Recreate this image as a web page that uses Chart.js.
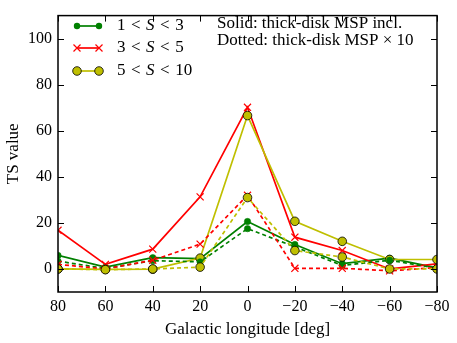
<!DOCTYPE html>
<html>
<head>
<meta charset="utf-8">
<script src="https://cdn.jsdelivr.net/npm/chart.js@4/dist/chart.umd.min.js"></script>
<style>
  html, body { margin: 0; padding: 0; background: #fff; }
  #wrap { width: 457px; height: 343px; }
</style>
</head>
<body>
<div id="wrap"><canvas id="tsChart"></canvas></div>
<script>
// galactic longitude bins
const lon = [80, 60, 40, 20, 0, -20, -40, -60, -80];

// TS values
const tsLow = [5.9, 0.8, 4.9, 4.5, 20.6, 10.6, 2.3, 4.7, 0.5];       // 1 < S < 3, thick-disk incl.
const tsLowX10 = [3.4, 0.2, 3.6, 3.1, 17.5, 9.6, 1.5, 3.8, 0.3];     // 1 < S < 3, x10
const tsMid = [16.8, 2.0, 8.6, 31.3, 70.2, 13.8, 8.0, 0.0, 2.2];     // 3 < S < 5
const tsMidX10 = [2.0, 0.0, 3.8, 10.8, 32.0, 0.3, 0.3, -0.8, 0.6];
const tsHigh = [0.0, -0.2, -0.1, 4.7, 66.6, 20.7, 12.0, 4.1, 4.1];   // 5 < S < 10
const tsHighX10 = [0.0, -0.3, 0.0, 0.8, 31.0, 8.0, 5.2, 0.0, 0.0];

const xTicks = [80, 60, 40, 20, 0, -20, -40, -60, -80];
const yTicks = [0, 20, 40, 60, 80, 100];

const legendLow = ['1', '3', '5'];
const legendHigh = ['3', '5', '10'];

const GREEN = '#008000';
const RED = '#ff0000';
const YELLOW = '#bfbf00';
const FONT = '"Liberation Serif", "DejaVu Serif", serif';

const pts = (ys) => ys.map((y, i) => ({ x: lon[i], y: y }));

function series(ys, color, style, dashed, order) {
  const ds = {
    data: pts(ys),
    borderColor: color,
    borderWidth: 1.7,
    borderDash: dashed ? [4, 3] : [],
    tension: 0,
    clip: 0,
    order: order,
    pointStyle: style === 'x' ? 'cross' : 'circle',
    pointRotation: style === 'x' ? 45 : 0
  };
  if (style === 'x') {
    ds.pointRadius = 5; ds.pointBorderColor = color; ds.pointBorderWidth = 1.2;
    ds.pointBackgroundColor = color;
  } else if (style === 'dot') {
    ds.pointRadius = 3.2; ds.pointBorderColor = color; ds.pointBorderWidth = 0.5;
    ds.pointBackgroundColor = color;
  } else {
    ds.pointRadius = 4.3; ds.pointBorderColor = '#000'; ds.pointBorderWidth = 0.8;
    ds.pointBackgroundColor = YELLOW;
  }
  return ds;
}

function drawMarker(ctx, style, color, x, y) {
  ctx.save();
  ctx.setLineDash([]);
  if (style === 'x') {
    const r = 3.5;
    ctx.strokeStyle = color; ctx.lineWidth = 1.2;
    ctx.beginPath();
    ctx.moveTo(x - r, y - r); ctx.lineTo(x + r, y + r);
    ctx.moveTo(x - r, y + r); ctx.lineTo(x + r, y - r);
    ctx.stroke();
  } else if (style === 'dot') {
    ctx.fillStyle = color;
    ctx.beginPath(); ctx.arc(x, y, 3.2, 0, Math.PI * 2); ctx.fill();
  } else {
    ctx.fillStyle = YELLOW; ctx.strokeStyle = '#000'; ctx.lineWidth = 0.8;
    ctx.beginPath(); ctx.arc(x, y, 4.3, 0, Math.PI * 2); ctx.fill(); ctx.stroke();
  }
  ctx.restore();
}

// frame, inward ticks, legend and note text
const decorations = {
  id: 'decorations',
  afterDraw(chart) {
    const ctx = chart.ctx;
    const a = chart.chartArea;
    const xs = chart.scales.x, ys = chart.scales.y;
    ctx.save();
    ctx.strokeStyle = '#000';
    ctx.lineWidth = 1;
    ctx.beginPath();
    xTicks.forEach(v => {
      const px = Math.round(xs.getPixelForValue(v)) + 0.5;
      ctx.moveTo(px, a.bottom); ctx.lineTo(px, a.bottom - 6);
      ctx.moveTo(px, a.top); ctx.lineTo(px, a.top + 6);
    });
    yTicks.forEach(v => {
      const py = Math.round(ys.getPixelForValue(v)) + 0.5;
      ctx.moveTo(a.left, py); ctx.lineTo(a.left + 6, py);
      ctx.moveTo(a.right, py); ctx.lineTo(a.right - 6, py);
    });
    ctx.stroke();
    ctx.lineWidth = 1.5;
    ctx.strokeRect(a.left, a.top, a.right - a.left, a.bottom - a.top);

    // legend
    const rows = [
      { color: GREEN, style: 'dot' },
      { color: RED, style: 'x' },
      { color: YELLOW, style: 'circle' }
    ];
    const rowY = [26, 48, 71];
    rows.forEach((r, i) => {
      const y = rowY[i];
      ctx.strokeStyle = r.color; ctx.lineWidth = 1.7; ctx.setLineDash([]);
      ctx.beginPath(); ctx.moveTo(77, y); ctx.lineTo(99, y); ctx.stroke();
      drawMarker(ctx, r.style, r.color, 77, y);
      drawMarker(ctx, r.style, r.color, 99, y);
      ctx.fillStyle = '#000';
      ctx.textBaseline = 'middle';
      ctx.textAlign = 'left';
      let x = 117;
      const parts = [
        [legendLow[i], '17px ' + FONT],
        ['<', '17px ' + FONT],
        ['S', 'italic 17px ' + FONT],
        ['<', '17px ' + FONT],
        [legendHigh[i], '17px ' + FONT]
      ];
      parts.forEach(p => {
        ctx.font = p[1];
        ctx.fillText(p[0], x, y);
        x += ctx.measureText(p[0]).width + 5.5;
      });
    });

    // note
    ctx.font = '17px ' + FONT;
    ctx.fillStyle = '#000';
    ctx.textBaseline = 'middle';
    ctx.fillText('Solid: thick-disk MSP incl.', 217, 24);
    ctx.fillText('Dotted: thick-disk MSP \u00d7 10', 217, 41);
    ctx.restore();
  }
};

const ctx = document.getElementById('tsChart').getContext('2d');
new Chart(ctx, {
  type: 'line',
  data: {
    datasets: [
      series(tsLow, GREEN, 'dot', false, 5),
      series(tsMid, RED, 'x', false, 4),
      series(tsHigh, YELLOW, 'circle', false, 3),
      series(tsLowX10, GREEN, 'dot', true, 2),
      series(tsMidX10, RED, 'x', true, 1),
      series(tsHighX10, YELLOW, 'circle', true, 0)
    ]
  },
  plugins: [decorations],
  options: {
    responsive: true,
    maintainAspectRatio: false,
    animation: false,
    layout: { padding: { top: 6, right: 20, left: 0, bottom: 0 } },
    plugins: { legend: { display: false }, tooltip: { enabled: false } },
    scales: {
      x: {
        type: 'linear',
        reverse: true,
        min: -80, max: 80,
        afterBuildTicks: (s) => { s.ticks = xTicks.map(v => ({ value: v })); },
        afterFit: (s) => { s.height = 51; },
        grid: { display: false, drawTicks: false },
        border: { display: false },
        ticks: {
          padding: 5,
          color: '#000',
          font: { family: FONT, size: 16 },
          maxRotation: 0,
          callback: (v) => v < 0 ? '\u2212' + Math.abs(v) : String(v)
        },
        title: {
          display: true,
          text: 'Galactic longitude [deg]',
          color: '#000',
          font: { family: FONT, size: 17 },
          padding: { top: 0, bottom: 3 }
        }
      },
      y: {
        min: -10, max: 110,
        afterBuildTicks: (s) => { s.ticks = yTicks.map(v => ({ value: v })); },
        afterFit: (s) => { s.width = 58; },
        grid: { display: false, drawTicks: false },
        border: { display: false },
        ticks: {
          padding: 6,
          color: '#000',
          font: { family: FONT, size: 16 }
        },
        title: {
          display: true,
          text: 'TS value',
          color: '#000',
          font: { family: FONT, size: 17 },
          padding: { top: 3, bottom: 0 }
        }
      }
    }
  }
});
</script>
</body>
</html>
